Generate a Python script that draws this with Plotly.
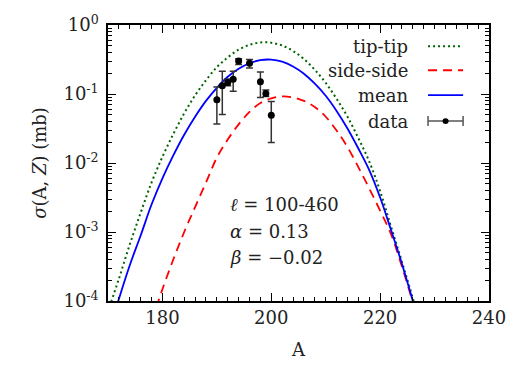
import plotly.graph_objects as go

# ---- data ----
A_curve = [170, 172, 174, 176, 178, 180, 182, 184, 186, 188, 190, 192, 194, 196, 198,
           200, 202, 204, 206, 208, 210, 212, 214, 216, 218, 220, 222, 224, 226, 228]

tip_tip = [7.1e-5, 2.1e-4, 6.6e-4, 1.9e-3, 5.2e-3, 0.0123, 0.0263, 0.0525, 0.0955, 0.158,
           0.245, 0.339, 0.439, 0.516, 0.558, 0.553, 0.504, 0.420, 0.321, 0.224,
           0.145, 0.0851, 0.0468, 0.0229, 0.0105, 3.9e-3, 1.2e-3, 3.7e-4, 1.1e-4, 3.1e-5]

mean = [3.2e-5, 1.07e-4, 3.3e-4, 8.9e-4, 2.5e-3, 6.0e-3, 0.0129, 0.0257, 0.0468, 0.0794,
        0.123, 0.178, 0.232, 0.279, 0.310, 0.315, 0.294, 0.251, 0.197, 0.141,
        0.0944, 0.0569, 0.0316, 0.0162, 7.9e-3, 3.16e-3, 1.07e-3, 3.47e-4, 1.0e-4, 2.6e-5]

A_side = [178, 180, 182, 184, 186, 188, 190, 192, 194, 196, 198, 200, 202, 204, 206,
          208, 210, 212, 214, 216, 218, 220, 222, 224, 226, 228]
side_side = [5.0e-5, 1.48e-4, 4.0e-4, 1.0e-3, 2.3e-3, 5.2e-3, 0.0120, 0.0219, 0.0363, 0.0550,
             0.0741, 0.0861, 0.0923, 0.0891, 0.0794, 0.0646, 0.0468, 0.0295, 0.0170, 8.7e-3,
             4.27e-3, 2.04e-3, 9.3e-4, 3.16e-4, 9.5e-5, 2.5e-5]

A_data = [190, 191, 192, 193, 194, 196, 198, 199, 200]
sigma_data = [0.0825, 0.132, 0.147, 0.164, 0.301, 0.280, 0.150, 0.102, 0.0493]
err_hi = [0.1265, 0.214, 0.165, 0.214, 0.325, 0.315, 0.209, 0.114, 0.078]
err_lo = [0.0369, 0.0503, 0.132, 0.110, 0.268, 0.238, 0.089, 0.092, 0.0199]

y_tickvals = [1e-4, 1e-3, 1e-2, 1e-1, 1]
y_ticktext = ["10<sup>-4</sup>", "10<sup>-3</sup>", "10<sup>-2</sup>", "10<sup>-1</sup>", "10<sup>0</sup>"]
y_minor = [m * 10.0 ** e for e in (-4, -3, -2, -1) for m in range(2, 10)]
x_tickvals = [180, 200, 220, 240]
x_minor = list(range(170, 241, 2))

legend_names = ["tip-tip", "side-side", "mean", "data"]

FONT = "DejaVu Serif"
FS = 18
TXT = "#222222"
GREEN = "#006400"
RED = "#ff0000"
BLUE = "#0000ff"
GRAY = "#555555"

fig = go.Figure()
fig.add_trace(go.Scatter(x=A_curve, y=tip_tip, mode="lines", line_shape="spline",
                         line=dict(color=GREEN, width=2, dash="2px,3px"), showlegend=False))
fig.add_trace(go.Scatter(x=A_side, y=side_side, mode="lines", line_shape="spline",
                         line=dict(color=RED, width=1.8, dash="9px,6px"), showlegend=False))
fig.add_trace(go.Scatter(x=A_curve, y=mean, mode="lines", line_shape="spline",
                         line=dict(color=BLUE, width=1.8), showlegend=False))
fig.add_trace(go.Scatter(
    x=A_data, y=sigma_data, mode="markers",
    marker=dict(color="black", size=7, symbol="circle"),
    error_y=dict(type="data", symmetric=False,
                 array=[h - v for h, v in zip(err_hi, sigma_data)],
                 arrayminus=[v - l for l, v in zip(err_lo, sigma_data)],
                 color="#333333", thickness=1.5, width=3.5),
    showlegend=False))
# invisible trace carrying the mirrored (top/right) axes
fig.add_trace(go.Scatter(x=A_curve, y=mean, xaxis="x2", yaxis="y2", mode="lines",
                         line=dict(width=0, color="rgba(0,0,0,0)"), hoverinfo="skip",
                         showlegend=False))

# ---- manual legend (text right-aligned, sample on the right) ----
row_y = [0.923, 0.836, 0.746, 0.652]
styles = [dict(color=GREEN, width=2, dash="2px,3px"),
          dict(color=RED, width=1.8, dash="9px,6px"),
          dict(color=BLUE, width=1.8),
          dict(color=GRAY, width=1.5)]
x_txt = 0.793
x0s, x1s = 0.840, 0.932
for name, yy, st in zip(legend_names, row_y, styles):
    fig.add_annotation(x=x_txt, y=yy, xref="paper", yref="paper", text=name,
                       showarrow=False, xanchor="right", yanchor="middle",
                       font=dict(family=FONT, size=FS, color=TXT))
    fig.add_shape(type="line", xref="paper", yref="paper", x0=x0s, x1=x1s, y0=yy, y1=yy, line=st)
yd = row_y[3]
for xc in (x0s, x1s):
    fig.add_shape(type="line", xref="paper", yref="paper", x0=xc, x1=xc,
                  y0=yd - 0.018, y1=yd + 0.018, line=dict(color=GRAY, width=1.5))
fig.add_shape(type="circle", xref="paper", yref="paper",
              x0=(x0s + x1s) / 2 - 0.008, x1=(x0s + x1s) / 2 + 0.008,
              y0=yd - 0.0105, y1=yd + 0.0105, fillcolor="black", line=dict(color="black", width=0))

# ---- parameter text ----
param_lines = ["<i>ℓ</i> = 100-460", "<i>α</i> = 0.13", "<i>β</i> = −0.02"]
param_y = [0.348, 0.251, 0.157]
for t, yy in zip(param_lines, param_y):
    fig.add_annotation(x=0.315, y=yy, xref="paper", yref="paper", text=t, showarrow=False,
                       xanchor="left", yanchor="middle", font=dict(family=FONT, size=FS, color=TXT))

tickfont = dict(family=FONT, size=FS, color=TXT)
TICKC = "black"
common = dict(showline=True, linecolor="black", linewidth=1.5, ticks="inside",
              tickcolor=TICKC, ticklen=8, tickwidth=1.2, showgrid=False, zeroline=False)
minor = dict(ticks="inside", ticklen=4, tickwidth=1, tickcolor=TICKC, showgrid=False)

fig.update_layout(
    width=520, height=369, margin=dict(l=108, r=31, t=16, b=66),
    paper_bgcolor="white", plot_bgcolor="white", showlegend=False,
    font=dict(family=FONT, size=FS, color=TXT),
    xaxis=dict(range=[170, 240], tickvals=x_tickvals, tickfont=tickfont,
               minor=dict(tickvals=x_minor, **minor),
               title=dict(text="A", font=tickfont, standoff=16), **common),
    yaxis=dict(type="log", range=[-4, 0], tickvals=y_tickvals, ticktext=y_ticktext, tickfont=tickfont,
               minor=dict(tickvals=y_minor, **minor),
               ticklabelstandoff=4,
               title=dict(text="<i>σ</i>(A, <i>Z</i>) (mb)", font=tickfont, standoff=12), **common),
    xaxis2=dict(range=[170, 240], overlaying="x", side="top", tickvals=x_tickvals, showticklabels=False,
                minor=dict(tickvals=x_minor, **minor), **common),
    yaxis2=dict(type="log", range=[-4, 0], overlaying="y", side="right", tickvals=y_tickvals,
                showticklabels=False, minor=dict(tickvals=y_minor, **minor), **common),
)

fig.write_html("out.html")
